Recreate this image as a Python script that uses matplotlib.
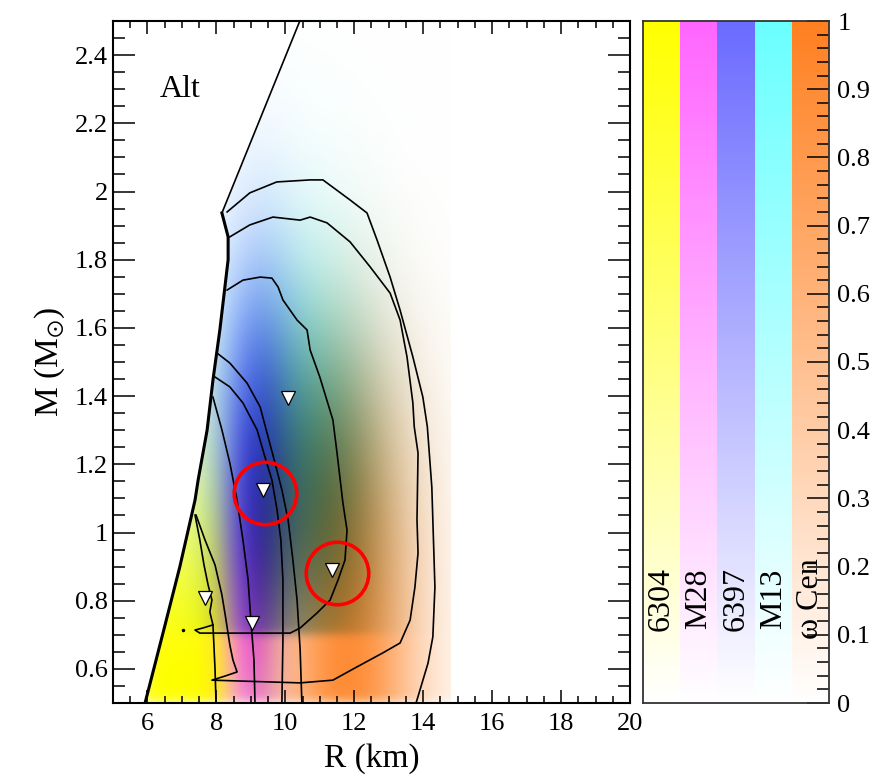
import numpy as np
import matplotlib
matplotlib.use("Agg")
import matplotlib.pyplot as plt
from matplotlib.colors import to_rgb
from matplotlib.ticker import MultipleLocator, FormatStrFormatter

plt.rcParams['font.family'] = ['Liberation Serif', 'DejaVu Serif']
plt.rcParams['mathtext.fontset'] = 'stix'

# ---- sources (colour strips, left to right) ----
sources = ["6304", "M28", "6397", "M13", "ω Cen"]
colours = ["#ffff00", "#ff66ff", "#6b6bff", "#6bffff", "#ff8020"]

# rough shape of each probability cloud in the M-R plane
r_mid = [7.0, 9.0, 9.2, 10.3, 11.8]
r_sig = [1.2, 0.55, 0.8, 1.6, 1.5]
r_pow = [4, 2, 2, 2, 2]
m_mid = [0.55, 0.8, 1.2, 1.25, 0.5]
m_sig = [0.4, 0.35, 0.4, 0.4, 0.8]
m_pow = [2, 2, 2, 2, 3]
m_cut = [0.5, 0.5, 0.7, 0.7, 0.5]
peak = [1.0, 0.95, 1.0, 1.0, 0.9]

# left boundary (causality / mass-shedding edge)
bound_r = [5.93, 6.45, 6.94, 7.38, 7.47, 7.73, 7.90, 8.10, 8.34, 8.34, 8.16]
bound_m = [0.50, 0.705, 0.90, 1.095, 1.154, 1.30, 1.447, 1.594, 1.80, 1.867, 1.937]
causal_r = [8.16, 10.42]
causal_m = [1.937, 2.50]

# contour lines
cA_r = [8.31, 8.97, 9.75, 10.72, 11.09, 11.88, 12.37, 12.66, 13.04, 13.33, 13.70,
        13.99, 14.12, 14.25, 14.34, 14.28, 14.14, 13.82, 13.79]
cA_m = [1.94, 1.996, 2.028, 2.034, 2.034, 1.975, 1.937, 1.858, 1.749, 1.652, 1.515,
        1.397, 1.31, 1.133, 0.84, 0.694, 0.617, 0.509, 0.50]

cB_r = [8.39, 8.97, 9.64, 10.43, 10.72, 11.21, 11.88, 12.46, 13.04, 13.33, 13.53,
        13.70, 13.74, 13.85, 13.82, 13.85, 13.76, 13.62, 13.33, 12.83, 12.08, 11.38,
        10.43, 7.87, 8.25, 8.60, 8.48, 8.39, 8.28, 8.16, 7.96, 7.67, 7.41]
cB_m = [1.867, 1.902, 1.925, 1.916, 1.925, 1.908, 1.852, 1.779, 1.702, 1.623, 1.515,
        1.380, 1.31, 1.233, 1.037, 0.940, 0.840, 0.743, 0.676, 0.647, 0.606, 0.567,
        0.559, 0.567, 0.579, 0.591, 0.626, 0.670, 0.743, 0.817, 0.905, 0.978, 1.051]

cC_r = [8.31, 8.77, 9.27, 9.61, 9.79, 9.93, 10.34, 10.63, 10.72, 11.00, 11.38, 11.50,
        11.67, 11.79, 11.73, 11.53, 11.30, 10.92, 10.43, 10.14, 7.52, 7.38, 7.61, 7.90,
        7.81, 7.87, 7.76, 7.64, 7.52, 7.38]
cC_m = [1.711, 1.740, 1.749, 1.746, 1.720, 1.682, 1.623, 1.594, 1.535, 1.456, 1.330, 1.233,
        1.087, 1.007, 0.919, 0.861, 0.802, 0.764, 0.720, 0.705, 0.705, 0.714, 0.720, 0.729,
        0.767, 0.802, 0.846, 0.905, 0.978, 1.051]

cY_r = [7.90, 7.96, 7.99]
cY_m = [0.729, 0.60, 0.50]

cL1_r = [7.90, 8.16, 8.39, 8.60, 8.77, 8.92, 9.00, 9.09, 9.12]
cL1_m = [1.397, 1.301, 1.204, 1.095, 0.978, 0.861, 0.743, 0.626, 0.50]
cL2_r = [7.96, 8.39, 8.77, 9.18, 9.41, 9.61, 9.76, 9.87, 9.93, 9.93, 9.90]
cL2_m = [1.456, 1.427, 1.380, 1.301, 1.221, 1.154, 1.066, 0.978, 0.861, 0.685, 0.50]
cL3_r = [8.02, 8.39, 8.89, 9.27, 9.50, 9.70, 9.90, 10.08, 10.22, 10.34, 10.43, 10.48]
cL3_m = [1.526, 1.497, 1.438, 1.368, 1.280, 1.204, 1.125, 1.037, 0.919, 0.802, 0.655, 0.50]

# individual sources (triangles) and highlighted ones (circles)
tri_r = [10.08, 9.35, 11.35, 7.67, 9.03]
tri_m = [1.395, 1.125, 0.89, 0.808, 0.735]
ring_r = [9.41, 11.50]
ring_m = [1.116, 0.881]

fig = plt.figure(figsize=(8.79, 7.77), dpi=100)
ax = fig.add_axes([113 / 879, 74 / 777, 517 / 879, 682 / 777])
cax = fig.add_axes([643 / 879, 74 / 777, 186 / 879, 682 / 777])

# blended probability image (multiplicative mix, darker where the warm
# omega Cen cloud overlaps the cool ones)
rr = np.linspace(5, 14.8, 490)
mm = np.linspace(0.5, 2.5, 400)
R, M = np.meshgrid(rr, mm)
rgb = np.ones(R.shape + (3,))
weights = []
for i in range(len(sources)):
    w = peak[i] * np.exp(-0.5 * np.abs((R - r_mid[i]) / r_sig[i]) ** r_pow[i])
    w *= np.exp(-0.5 * np.abs((M - m_mid[i]) / m_sig[i]) ** m_pow[i])
    w *= 1 / (1 + np.exp(-(M - m_cut[i]) / 0.008))
    w = np.clip(w, 0, 1)
    c = np.array(to_rgb(colours[i]))
    rgb *= 1 - w[..., None] * (1 - c)
    weights.append(w)
overlap = weights[4] * (weights[1] + weights[2] + weights[3])
rgb *= (1 - 0.6 * np.clip(overlap, 0, 1))[..., None]
edge = np.interp(M, bound_m + causal_m[1:], bound_r + causal_r[1:])
rgb[R < edge] = 1.0
ax.imshow(rgb, extent=[5, 14.8, 0.5, 2.5], origin='lower', aspect='auto',
          interpolation='bilinear', zorder=0)

# lines
ax.plot(bound_r, bound_m, color='k', lw=2.2, zorder=3)
ax.plot(causal_r, causal_m, color='k', lw=1.2, zorder=3)
for xs, ys in [(cA_r, cA_m), (cB_r, cB_m), (cC_r, cC_m), (cY_r, cY_m),
               (cL1_r, cL1_m), (cL2_r, cL2_m), (cL3_r, cL3_m)]:
    ax.plot(xs, ys, color='k', lw=1.2, zorder=3)
ax.plot([7.03], [0.714], 'k.', ms=3, zorder=3)

ax.plot(tri_r, tri_m, 'v', ms=10, mfc='white', mec='k', mew=0.9, ls='none', zorder=4)
ax.plot(ring_r, ring_m, 'o', ms=45, mfc='none', mec='red', mew=2.6, ls='none', zorder=5)

ax.text(6.35, 2.30, "Alt", fontsize=23, va='center')

ax.set_xlim(5, 20)
ax.set_ylim(0.5, 2.5)
ax.xaxis.set_major_locator(MultipleLocator(2))
ax.xaxis.set_minor_locator(MultipleLocator(0.5))
ax.yaxis.set_major_locator(MultipleLocator(0.2))
ax.yaxis.set_minor_locator(MultipleLocator(0.05))
ax.yaxis.set_major_formatter(FormatStrFormatter('%g'))
ax.set_xticks(np.arange(6, 21, 2))
ax.tick_params(axis='both', which='both', direction='in', top=True, right=True,
               labelsize=19, width=1.1)
ax.tick_params(axis='x', which='major', length=9.5, pad=7)
ax.tick_params(axis='x', which='minor', length=5)
ax.tick_params(axis='y', which='major', length=16, pad=3.5)
ax.tick_params(axis='y', which='minor', length=8.5)
for s in ax.spines.values():
    s.set_linewidth(1.5)
ax.set_xlabel("R (km)", fontsize=24, labelpad=6)
ax.set_ylabel(r"M (M$_{\odot}$)", fontsize=24, labelpad=6)

# colour strips
vals = np.linspace(0, 1, 256)
strip = np.ones((256, len(sources), 3))
for i, col in enumerate(colours):
    c = np.array(to_rgb(col))
    strip[:, i, :] = 1 - vals[:, None] * (1 - c)
cax.imshow(strip, extent=[0, len(sources), 0, 1], origin='lower', aspect='auto',
           interpolation='nearest')
for i, name in enumerate(sources):
    cax.text(i + 0.5, 0.153, name, rotation=90, ha='center', va='center', fontsize=23)
cax.set_xlim(0, len(sources))
cax.set_ylim(0, 1)
cax.set_xticks([])
cax.yaxis.tick_right()
cax.yaxis.set_major_locator(MultipleLocator(0.1))
cax.yaxis.set_minor_locator(MultipleLocator(0.02))
cax.yaxis.set_major_formatter(FormatStrFormatter('%g'))
cax.tick_params(axis='y', which='both', direction='in', labelsize=19, width=1.1, pad=6)
cax.tick_params(axis='y', which='major', length=16)
cax.tick_params(axis='y', which='minor', length=8.5)
for s in cax.spines.values():
    s.set_linewidth(1.3)
    s.set_color('#333333')

fig.savefig("out.png", dpi=100)
